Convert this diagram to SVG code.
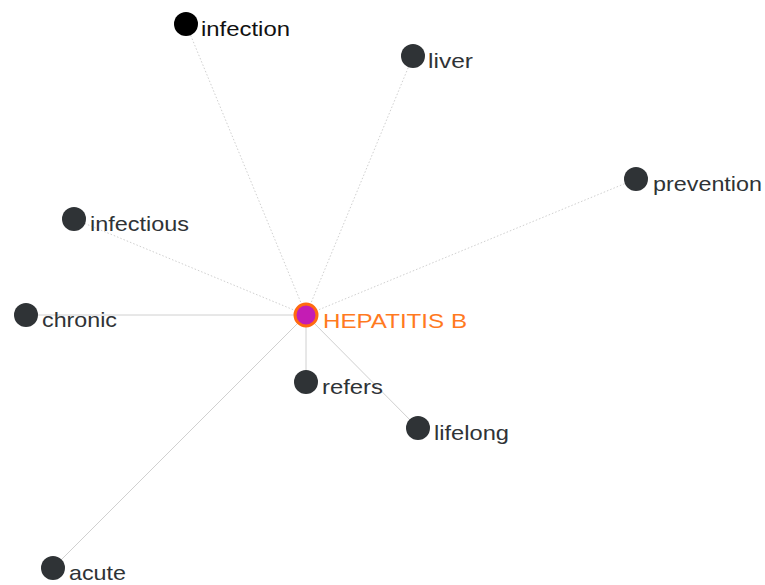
<svg xmlns="http://www.w3.org/2000/svg" width="765" height="585" viewBox="0 0 765 585">
<style>
.e{stroke:#d0d0d0;stroke-width:1;fill:none}
.d{stroke-dasharray:1.5 2}
.n{fill:#2f3336}
.t{font-family:"Liberation Sans",Arial,sans-serif;font-size:21px;fill:#2f3336}
.h{font-family:"Liberation Sans",Arial,sans-serif;font-size:21px;fill:#ff7a1f}
</style>
<rect width="765" height="585" fill="#fff"/>
<g id="edges">
<line class="e d" x1="306" y1="315" x2="186" y2="24"/>
<line class="e d" x1="306" y1="315" x2="413" y2="56"/>
<line class="e d" x1="306" y1="315" x2="636" y2="179"/>
<line class="e d" x1="306" y1="315" x2="74" y2="219"/>
<line class="e" x1="306" y1="315" x2="26" y2="315"/>
<line class="e" x1="306" y1="315" x2="306" y2="382"/>
<line class="e" x1="306" y1="315" x2="418" y2="428"/>
<line class="e" x1="306" y1="315" x2="53" y2="568"/>
</g>
<g id="infection"><circle cx="186" cy="24" r="12" fill="#000"/><text class="t" x="201" y="36" style="fill:#111" textLength="89" lengthAdjust="spacingAndGlyphs">infection</text></g>
<g id="liver"><circle class="n" cx="413" cy="56" r="12"/><text class="t" x="428" y="68" textLength="45" lengthAdjust="spacingAndGlyphs">liver</text></g>
<g id="prevention"><circle class="n" cx="636" cy="179" r="12"/><text class="t" x="653" y="191" textLength="109" lengthAdjust="spacingAndGlyphs">prevention</text></g>
<g id="infectious"><circle class="n" cx="74" cy="219" r="12"/><text class="t" x="90" y="231" textLength="99" lengthAdjust="spacingAndGlyphs">infectious</text></g>
<g id="chronic"><circle class="n" cx="26" cy="315" r="12"/><text class="t" x="42" y="327" textLength="75" lengthAdjust="spacingAndGlyphs">chronic</text></g>
<g id="refers"><circle class="n" cx="306" cy="382" r="12"/><text class="t" x="322" y="394" textLength="61" lengthAdjust="spacingAndGlyphs">refers</text></g>
<g id="lifelong"><circle class="n" cx="418" cy="428" r="12"/><text class="t" x="434" y="440" textLength="75" lengthAdjust="spacingAndGlyphs">lifelong</text></g>
<g id="acute"><circle class="n" cx="53" cy="568" r="12"/><text class="t" x="69" y="580" textLength="57" lengthAdjust="spacingAndGlyphs">acute</text></g>
<g id="hepatitis-b"><circle cx="306" cy="315" r="11" fill="#c41cb4" stroke="#ff6a10" stroke-width="3"/><text class="h" x="323" y="328" textLength="144" lengthAdjust="spacingAndGlyphs">HEPATITIS B</text></g>
</svg>
